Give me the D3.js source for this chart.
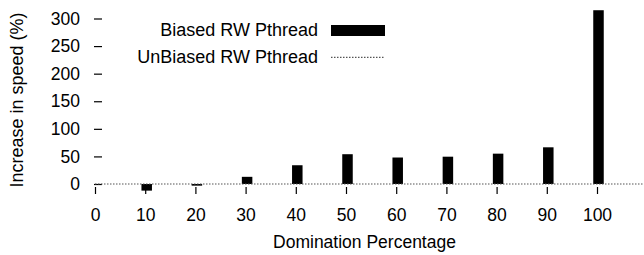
<!DOCTYPE html>
<html>
<head>
<meta charset="utf-8">
<script src="https://cdn.jsdelivr.net/npm/d3@7"></script>
<style>
  body { margin: 0; background: #fff; }
  svg text { font-family: "Liberation Sans", Arial, sans-serif; fill: #000; }
</style>
</head>
<body>
<div id="chart"></div>
<script>
// domination percentage categories and speedup values (%)
const domination = [0, 10, 20, 30, 40, 50, 60, 70, 80, 90, 100]
const biasedSpeedup = [0, -12, -3, 13, 34, 54, 48, 49.5, 55, 66.5, 315]
const yTicks = [0, 50, 100, 150, 200, 250, 300]
const seriesNames = ["Biased RW Pthread", "UnBiased RW Pthread"]

const width = 644, height = 255
const fontSize = 17.5
const labelSize = 18

const svg = d3.select("#chart")
    .append("svg")
    .attr("width", width)
    .attr("height", height)

const xScale = d3.scaleLinear().domain([0, 100]).range([95, 597])
const yScale = d3.scaleLinear().domain([0, 300]).range([184, 18.5])

// y axis: only the small tick dashes and labels
const leftAxis = d3.axisLeft(yScale)
    .tickValues(yTicks)
    .tickSize(8)
    .tickPadding(14)
    .tickSizeOuter(0)

const leftG = svg.append("g")
    .attr("transform", "translate(102,0)")
    .call(leftAxis)
leftG.select(".domain").remove()
leftG.selectAll(".tick line").attr("stroke", "#000").attr("stroke-width", 1.2)
leftG.selectAll(".tick text")
    .style("font-size", fontSize + "px")
    .attr("font-family", null)

// x axis: short ticks below the zero line
const bottomAxis = d3.axisBottom(xScale)
    .tickValues(domination)
    .tickSize(7)
    .tickPadding(14.5)
    .tickSizeOuter(0)

const bottomG = svg.append("g")
    .attr("transform", "translate(0,187)")
    .call(bottomAxis)
bottomG.select(".domain").remove()
bottomG.selectAll(".tick line").attr("stroke", "#000").attr("stroke-width", 1.2)
bottomG.selectAll(".tick text")
    .style("font-size", fontSize + "px")
    .attr("font-family", null)

// bars
const barWidth = 10.5
svg.append("g")
    .selectAll("rect")
    .data(domination.map((d, i) => ({ x: d, y: biasedSpeedup[i] })))
    .enter()
    .append("rect")
    .attr("x", d => xScale(d.x) + 1.5 - barWidth / 2)
    .attr("y", d => Math.min(yScale(d.y), yScale(0)))
    .attr("width", barWidth)
    .attr("height", d => Math.abs(yScale(d.y) - yScale(0)))
    .attr("fill", "#000")

// unbiased baseline (dotted zero line)
svg.append("line")
    .attr("x1", xScale(0))
    .attr("x2", xScale(110))
    .attr("y1", yScale(0))
    .attr("y2", yScale(0))
    .attr("stroke", "#555")
    .attr("stroke-width", 1.2)
    .attr("stroke-dasharray", "1.5,1.5")

// legend
const legend = svg.append("g")
legend.append("text")
    .attr("x", 318)
    .attr("y", 36.3)
    .attr("text-anchor", "end")
    .style("font-size", labelSize + "px")
    .text(seriesNames[0])
legend.append("rect")
    .attr("x", 331)
    .attr("y", 25)
    .attr("width", 54)
    .attr("height", 11)
    .attr("fill", "#000")
legend.append("text")
    .attr("x", 318)
    .attr("y", 63.3)
    .attr("text-anchor", "end")
    .style("font-size", labelSize + "px")
    .text(seriesNames[1])
legend.append("line")
    .attr("x1", 331)
    .attr("x2", 385)
    .attr("y1", 57.3)
    .attr("y2", 57.3)
    .attr("stroke", "#555")
    .attr("stroke-width", 1.2)
    .attr("stroke-dasharray", "1.5,1.5")

// axis labels
svg.append("text")
    .attr("x", 364.5)
    .attr("y", 247.5)
    .attr("text-anchor", "middle")
    .style("font-size", fontSize + "px")
    .text("Domination Percentage")

svg.append("text")
    .attr("transform", "translate(22.5,100) rotate(-90)")
    .attr("text-anchor", "middle")
    .style("font-size", labelSize + "px")
    .text("Increase in speed (%)")
</script>
</body>
</html>
